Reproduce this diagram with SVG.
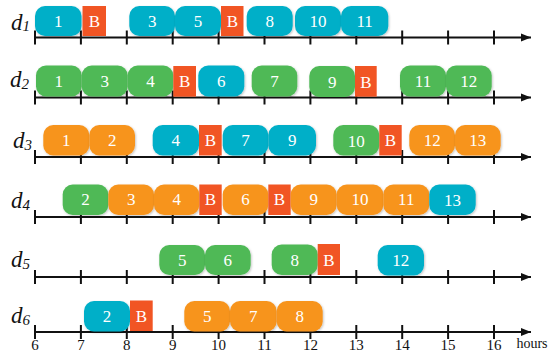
<svg xmlns="http://www.w3.org/2000/svg" width="548" height="353" viewBox="0 0 548 353">
<style>
.bl{fill:#03AFC8}.gr{fill:#4FB957}.or{fill:#F7941F}.rd{fill:#F15524}
.t{font-family:'Liberation Serif',serif;font-size:17px;fill:#fff;text-anchor:middle}
.ax{stroke:#111;stroke-width:2;fill:none}
.lb{font-family:'Liberation Serif',serif;font-style:italic;font-size:23px;fill:#111}
.sb{font-size:15px}
.num{font-family:'Liberation Serif',serif;font-size:15px;fill:#111;text-anchor:middle}
.sh{filter:url(#sh)}
</style>
<defs>
<filter id="sh" x="-20%" y="-20%" width="140%" height="150%"><feDropShadow dx="0.8" dy="1" stdDeviation="0.9" flood-color="#000" flood-opacity="0.25"/></filter>
<marker id="ar" markerWidth="12" markerHeight="12" refX="10" refY="5" orient="auto" markerUnits="userSpaceOnUse"><path d="M0,1 L10,5 L0,9 z" fill="#111"/></marker>
<g id="ticks">
<path class="ax" d="M35,0 H531" marker-end="url(#ar)"/>
<path class="ax" d="M35,-7 V7 M80.9,-7 V7 M126.8,-7 V7 M172.7,-7 V7 M218.6,-7 V7 M264.5,-7 V7 M310.4,-7 V7 M356.3,-7 V7 M402.2,-7 V7 M448.1,-7 V7 M494,-7 V7"/>
</g>
</defs>
<g id="axes">
<use href="#ticks" y="37.5"/>
<use href="#ticks" y="97.5"/>
<use href="#ticks" y="157"/>
<use href="#ticks" y="217"/>
<use href="#ticks" y="277"/>
<use href="#ticks" y="332"/>
</g>
<g id="labels">
<text class="lb" x="11" y="30">d<tspan class="sb" dy="1">1</tspan></text>
<text class="lb" x="10" y="87">d<tspan class="sb" dy="2">2</tspan></text>
<text class="lb" x="13" y="148">d<tspan class="sb" dy="2">3</tspan></text>
<text class="lb" x="11" y="208">d<tspan class="sb" dy="2">4</tspan></text>
<text class="lb" x="11" y="267">d<tspan class="sb" dy="2">5</tspan></text>
<text class="lb" x="11" y="323">d<tspan class="sb" dy="2">6</tspan></text>
</g>
<g id="row1">
<g id="d1-1"><rect class="bl sh" x="35" y="6" width="46.5" height="30" rx="10"/><text class="t" x="58.3" y="27">1</text></g>
<g id="d1-B1"><rect class="rd" x="82.5" y="6" width="23.5" height="30"/><text class="t" x="94.3" y="27">B</text></g>
<g id="d1-3"><rect class="bl sh" x="129.3" y="6" width="45.7" height="30" rx="10"/><text class="t" x="152.2" y="27">3</text></g>
<g id="d1-5"><rect class="bl sh" x="175" y="6" width="46" height="30" rx="10"/><text class="t" x="198" y="27">5</text></g>
<g id="d1-B2"><rect class="rd" x="221" y="6" width="22.5" height="30"/><text class="t" x="232.3" y="27">B</text></g>
<g id="d1-8"><rect class="bl sh" x="246.7" y="6" width="46" height="30" rx="10"/><text class="t" x="269.7" y="27">8</text></g>
<g id="d1-10"><rect class="bl sh" x="295" y="6" width="46" height="30" rx="10"/><text class="t" x="318" y="27">10</text></g>
<g id="d1-11"><rect class="bl sh" x="341" y="6" width="47.3" height="30" rx="10"/><text class="t" x="364.7" y="27">11</text></g>
</g>
<g id="row2">
<g id="d2-1"><rect class="gr sh" x="36" y="65.5" width="45.7" height="31" rx="10"/><text class="t" x="58.8" y="87">1</text></g>
<g id="d2-3"><rect class="gr sh" x="81.7" y="65.5" width="46" height="31" rx="10"/><text class="t" x="104.7" y="87">3</text></g>
<g id="d2-4"><rect class="gr sh" x="127.7" y="65.5" width="45.6" height="31" rx="10"/><text class="t" x="150.5" y="87">4</text></g>
<g id="d2-B1"><rect class="rd" x="173.3" y="66" width="22.7" height="30.7"/><text class="t" x="184.7" y="87">B</text></g>
<g id="d2-6"><rect class="bl sh" x="198.3" y="65.5" width="46" height="31" rx="10"/><text class="t" x="221.3" y="87">6</text></g>
<g id="d2-7"><rect class="gr sh" x="251.7" y="65.5" width="45.6" height="31" rx="10"/><text class="t" x="274.5" y="87">7</text></g>
<g id="d2-9"><rect class="gr sh" x="309.3" y="66" width="45.7" height="31" rx="10"/><text class="t" x="332.2" y="88">9</text></g>
<g id="d2-B2"><rect class="rd" x="355" y="66" width="21.7" height="30.7"/><text class="t" x="365.8" y="88">B</text></g>
<g id="d2-11"><rect class="gr sh" x="400" y="65.5" width="46" height="31" rx="10"/><text class="t" x="423" y="87">11</text></g>
<g id="d2-12"><rect class="gr sh" x="446" y="65.5" width="45.7" height="31" rx="10"/><text class="t" x="468.8" y="87">12</text></g>
</g>
<g id="row3">
<g id="d3-1"><rect class="or sh" x="43.3" y="125" width="46" height="30.5" rx="10"/><text class="t" x="66.3" y="146">1</text></g>
<g id="d3-2"><rect class="or sh" x="89.3" y="125" width="45.7" height="30.5" rx="10"/><text class="t" x="112.2" y="146">2</text></g>
<g id="d3-4"><rect class="bl sh" x="152.7" y="125" width="46.3" height="30.5" rx="10"/><text class="t" x="175.8" y="146">4</text></g>
<g id="d3-B1"><rect class="rd" x="199" y="125" width="22.7" height="30.5"/><text class="t" x="210.3" y="146">B</text></g>
<g id="d3-7"><rect class="bl sh" x="222.7" y="125" width="45.6" height="30.5" rx="10"/><text class="t" x="245.5" y="146">7</text></g>
<g id="d3-9"><rect class="bl sh" x="268.3" y="125" width="47.7" height="30.5" rx="10"/><text class="t" x="292.2" y="146">9</text></g>
<g id="d3-10"><rect class="gr sh" x="333.3" y="125" width="46" height="30.5" rx="10"/><text class="t" x="356.3" y="147">10</text></g>
<g id="d3-B2"><rect class="rd" x="379.3" y="125" width="22.4" height="30.5"/><text class="t" x="390.5" y="146">B</text></g>
<g id="d3-12"><rect class="or sh" x="409.3" y="125" width="45.7" height="30.5" rx="10"/><text class="t" x="432.2" y="146">12</text></g>
<g id="d3-13"><rect class="or sh" x="455" y="125" width="45.7" height="30.5" rx="10"/><text class="t" x="477.8" y="146">13</text></g>
</g>
<g id="row4">
<g id="d4-2"><rect class="gr sh" x="62.7" y="184.5" width="45.6" height="30.5" rx="10"/><text class="t" x="85.5" y="205">2</text></g>
<g id="d4-3"><rect class="or sh" x="108.3" y="184.5" width="45.7" height="30.5" rx="10"/><text class="t" x="131.2" y="205">3</text></g>
<g id="d4-4"><rect class="or sh" x="154" y="184.5" width="45.3" height="30.5" rx="10"/><text class="t" x="176.7" y="205">4</text></g>
<g id="d4-B1"><rect class="rd" x="199.3" y="184.5" width="22.4" height="30.5"/><text class="t" x="210.5" y="205">B</text></g>
<g id="d4-6"><rect class="or sh" x="222.7" y="184.5" width="45.6" height="30.5" rx="10"/><text class="t" x="245.5" y="205">6</text></g>
<g id="d4-B2"><rect class="rd" x="268.3" y="184.5" width="22.4" height="30.5"/><text class="t" x="279.5" y="205">B</text></g>
<g id="d4-9"><rect class="or sh" x="290.7" y="184.5" width="46" height="30.5" rx="10"/><text class="t" x="313.7" y="205">9</text></g>
<g id="d4-10"><rect class="or sh" x="336.7" y="184.5" width="46.6" height="30.5" rx="10"/><text class="t" x="360" y="205">10</text></g>
<g id="d4-11"><rect class="or sh" x="383.3" y="184.5" width="46" height="30.5" rx="10"/><text class="t" x="406.3" y="205">11</text></g>
<g id="d4-13"><rect class="bl sh" x="429.3" y="184.5" width="46.4" height="30.5" rx="10"/><text class="t" x="452.5" y="206">13</text></g>
</g>
<g id="row5">
<g id="d5-5"><rect class="gr sh" x="159.3" y="245" width="45.7" height="30" rx="10"/><text class="t" x="182.2" y="266">5</text></g>
<g id="d5-6"><rect class="gr sh" x="205" y="245" width="45.7" height="30" rx="10"/><text class="t" x="227.8" y="266">6</text></g>
<g id="d5-8"><rect class="gr sh" x="271.7" y="244.5" width="46" height="30.5" rx="10"/><text class="t" x="294.7" y="266">8</text></g>
<g id="d5-B"><rect class="rd" x="317.7" y="244" width="22.3" height="31"/><text class="t" x="328.8" y="266">B</text></g>
<g id="d5-12"><rect class="bl sh" x="377.7" y="245" width="46.3" height="30.5" rx="10"/><text class="t" x="400.8" y="266">12</text></g>
</g>
<g id="row6">
<g id="d6-2"><rect class="bl sh" x="84" y="301" width="46" height="30.5" rx="10"/><text class="t" x="107" y="322">2</text></g>
<g id="d6-B"><rect class="rd" x="130" y="300.5" width="22.7" height="30.5"/><text class="t" x="141.3" y="322">B</text></g>
<g id="d6-5"><rect class="or sh" x="184.3" y="301" width="45.7" height="30.5" rx="10"/><text class="t" x="207.2" y="322">5</text></g>
<g id="d6-7"><rect class="or sh" x="230" y="301" width="46.7" height="30.5" rx="10"/><text class="t" x="253.3" y="322">7</text></g>
<g id="d6-8"><rect class="or sh" x="276.7" y="301" width="46" height="30.5" rx="10"/><text class="t" x="299.7" y="322">8</text></g>
</g>
<g id="hours">
<text class="num" x="35" y="350">6</text>
<text class="num" x="80.9" y="350">7</text>
<text class="num" x="126.8" y="350">8</text>
<text class="num" x="172.7" y="350">9</text>
<text class="num" x="218.6" y="350">10</text>
<text class="num" x="264.5" y="350">11</text>
<text class="num" x="310.4" y="350">12</text>
<text class="num" x="356.3" y="350">13</text>
<text class="num" x="402.2" y="350">14</text>
<text class="num" x="448.1" y="350">15</text>
<text class="num" x="494" y="350">16</text>
<text class="num" x="532" y="348" style="font-size:14px">hours</text>
</g>
</svg>
